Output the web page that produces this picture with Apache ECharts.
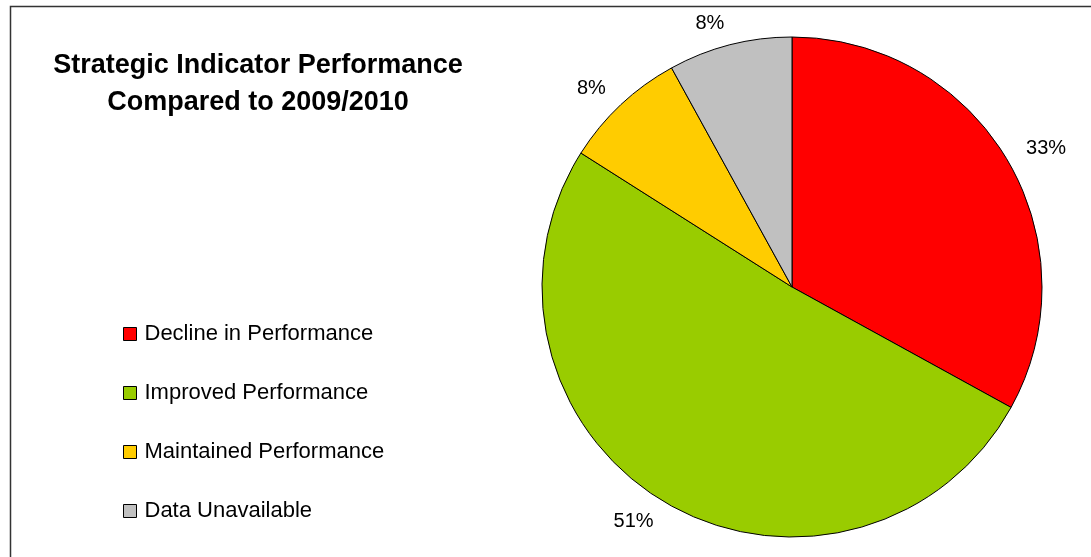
<!DOCTYPE html>
<html>
<head>
<meta charset="utf-8">
<script src="https://cdn.jsdelivr.net/npm/echarts@6/dist/echarts.min.js"></script>
<style>
  html, body { margin: 0; padding: 0; background: #fff; }
  #pie_chart { width: 1091px; height: 557px; }
</style>
</head>
<body>
<div id="pie_chart"></div>
<script>
// 数据
var categories = ['Decline in Performance', 'Improved Performance', 'Maintained Performance', 'Data Unavailable'];
var shares = [33, 51, 8, 8];
var sliceColors = ['#FF0000', '#99CC00', '#FFCC00', '#C0C0C0'];

var pieData = categories.map(function (name, i) {
    return { name: name, value: shares[i], itemStyle: { color: sliceColors[i] } };
});

var myChart = echarts.init(document.getElementById('pie_chart'));
var option = {
    animation: false,
    title: {
        text: 'Strategic Indicator Performance\nCompared to 2009/2010',
        left: 253,
        top: 42,
        textAlign: 'center',
        textStyle: {
            fontFamily: 'Liberation Sans, Arial',
            fontSize: 27,
            fontWeight: 'bold',
            lineHeight: 37,
            color: '#000'
        }
    },
    legend: {
        orient: 'vertical',
        left: 118,
        top: 318,
        itemWidth: 13,
        itemHeight: 13,
        itemGap: 37,
        icon: 'rect',
        itemStyle: { borderColor: '#000', borderWidth: 1 },
        textStyle: {
            fontFamily: 'Liberation Sans, Arial',
            fontSize: 22,
            color: '#000',
            padding: [0, 0, 0, 3]
        },
        data: categories
    },
    // 外框
    graphic: [{
        type: 'rect',
        shape: { x: 10.5, y: 6.5, width: 1200, height: 700 },
        style: { fill: 'none', stroke: '#333', lineWidth: 1.5 },
        silent: true
    }],
    series: [{
        type: 'pie',
        center: [792, 287],
        radius: 250,
        startAngle: 90,
        clockwise: true,
        avoidLabelOverlap: false,
        itemStyle: { borderColor: '#000', borderWidth: 1 },
        label: {
            show: true,
            position: 'outside',
            distanceToLabelLine: 0,
            fontFamily: 'Liberation Sans, Arial',
            fontSize: 20,
            color: '#000',
            formatter: function (p) { return p.value + '%'; }
        },
        labelLine: { show: false, length: 22, length2: 0 },
        emphasis: { disabled: true },
        data: pieData
    }]
};
myChart.setOption(option);

window.onresize = function () {
    myChart.resize();
};
</script>
</body>
</html>
